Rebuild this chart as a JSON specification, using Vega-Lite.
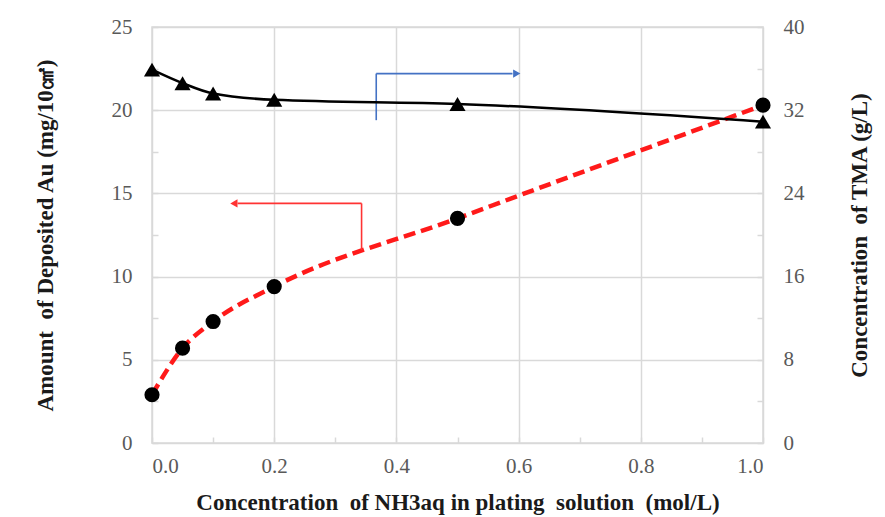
{
  "$schema": "https://vega.github.io/schema/vega-lite/v6.json",
  "width": 611,
  "height": 416,
  "autosize": {"type": "none"},
  "padding": {"left": 152, "top": 27, "right": 122, "bottom": 74},
  "background": "white",
  "config": {
    "font": "Liberation Serif",
    "view": {"stroke": "#d9d9d9", "strokeWidth": 1.5},
    "axis": {
      "labelFont": "Liberation Serif",
      "labelFontSize": 21,
      "labelColor": "#595959",
      "titleFont": "Liberation Serif",
      "titleFontSize": 23,
      "titleFontWeight": "bold",
      "titleColor": "#1a1a1a",
      "domain": false,
      "gridColor": "#d9d9d9",
      "gridWidth": 1.5,
      "tickColor": "#d9d9d9",
      "tickWidth": 1.5
    }
  },
  "datasets": {
    "au": [
      {"x": 0.0, "au": 2.9},
      {"x": 0.05, "au": 5.7},
      {"x": 0.1, "au": 7.3},
      {"x": 0.2, "au": 9.4},
      {"x": 0.5, "au": 13.5},
      {"x": 1.0, "au": 20.3}
    ],
    "tma": [
      {"x": 0.0, "tma": 35.9},
      {"x": 0.05, "tma": 34.6},
      {"x": 0.1, "tma": 33.6},
      {"x": 0.2, "tma": 33.0},
      {"x": 0.5, "tma": 32.6},
      {"x": 1.0, "tma": 30.9}
    ],
    "arrows": [
      {"c": "blue", "x": 0.367, "x2": 0.367, "au": 19.4, "au2": 22.2},
      {"c": "blue", "x": 0.367, "x2": 0.59, "au": 22.2, "au2": 22.2},
      {"c": "red", "x": 0.343, "x2": 0.343, "au": 11.6, "au2": 14.4},
      {"c": "red", "x": 0.343, "x2": 0.14, "au": 14.4, "au2": 14.4}
    ],
    "heads": [
      {"c": "blue", "x": 0.597, "au": 22.2},
      {"c": "red", "x": 0.134, "au": 14.4}
    ]
  },
  "layer": [
    {
      "layer": [
        {
          "data": {"name": "au"},
          "mark": {"type": "line", "color": "#ff1a1a", "strokeWidth": 4.5, "strokeDash": [12, 6], "interpolate": "monotone"},
          "encoding": {
            "x": {
              "field": "x", "type": "quantitative",
              "scale": {"domain": [0, 1], "nice": false},
              "axis": {
                "title": "Concentration \u00a0of NH3aq in plating \u00a0solution \u00a0(mol/L)",
                "values": [0, 0.1, 0.2, 0.3, 0.4, 0.5, 0.6, 0.7, 0.8, 0.9, 1.0],
                "labelExpr": "round(datum.value*10) % 2 === 0 ? format(datum.value, '.1f') : ''",
                "gridOpacity": {"condition": {"test": "round(datum.value*10) % 2 === 0", "value": 1}, "value": 0},
                "tickSize": -6,
                "labelPadding": 18,
                "titlePadding": 15
              }
            },
            "y": {
              "field": "au", "type": "quantitative",
              "scale": {"domain": [0, 25], "nice": false},
              "axis": {
                "title": "Amount \u00a0of Deposited Au (mg/10㎠)",
                "values": [0, 2.5, 5, 7.5, 10, 12.5, 15, 17.5, 20, 22.5, 25],
                "labelExpr": "datum.value % 5 === 0 ? datum.label : ''",
                "gridOpacity": {"condition": {"test": "datum.value % 5 === 0", "value": 1}, "value": 0},
                "tickSize": -6,
                "labelPadding": 26,
                "titlePadding": 54
              }
            }
          }
        },
        {
          "data": {"name": "au"},
          "mark": {"type": "point", "filled": true, "shape": "circle", "color": "black", "opacity": 1, "size": 230},
          "encoding": {
            "x": {"field": "x", "type": "quantitative"},
            "y": {"field": "au", "type": "quantitative"}
          }
        },
        {
          "data": {"name": "arrows"},
          "mark": {"type": "rule", "strokeWidth": 1.6},
          "encoding": {
            "x": {"field": "x", "type": "quantitative"},
            "x2": {"field": "x2"},
            "y": {"field": "au", "type": "quantitative"},
            "y2": {"field": "au2"},
            "color": {"field": "c", "type": "nominal", "scale": {"domain": ["blue", "red"], "range": ["#4472c4", "#ff3333"]}, "legend": null}
          }
        },
        {
          "data": {"name": "heads"},
          "mark": {"type": "point", "filled": true, "opacity": 1, "size": 70},
          "encoding": {
            "x": {"field": "x", "type": "quantitative"},
            "y": {"field": "au", "type": "quantitative"},
            "color": {"field": "c", "type": "nominal", "scale": {"domain": ["blue", "red"], "range": ["#4472c4", "#ff3333"]}, "legend": null},
            "shape": {"field": "c", "type": "nominal", "scale": {"domain": ["blue", "red"], "range": ["triangle-right", "triangle-left"]}, "legend": null}
          }
        }
      ]
    },
    {
      "data": {"name": "tma"},
      "layer": [
        {
          "mark": {"type": "line", "color": "black", "strokeWidth": 2.5, "interpolate": "monotone"},
          "encoding": {
            "x": {"field": "x", "type": "quantitative"},
            "y": {
              "field": "tma", "type": "quantitative",
              "scale": {"domain": [0, 40], "nice": false},
              "axis": {
                "orient": "right",
                "title": "Concentration \u00a0of TMA (g/L)",
                "titleAngle": 270,
                "titleBaseline": "bottom",
                "values": [0, 4, 8, 12, 16, 20, 24, 28, 32, 36, 40],
                "labelExpr": "datum.value % 8 === 0 ? datum.label : ''",
                "grid": false,
                "tickSize": -6,
                "labelPadding": 26,
                "titlePadding": 67
              }
            }
          }
        },
        {
          "mark": {"type": "point", "filled": true, "shape": "triangle-up", "color": "black", "opacity": 1, "size": 260},
          "encoding": {
            "x": {"field": "x", "type": "quantitative"},
            "y": {"field": "tma", "type": "quantitative"}
          }
        }
      ]
    }
  ],
  "resolve": {"scale": {"y": "independent"}}
}
